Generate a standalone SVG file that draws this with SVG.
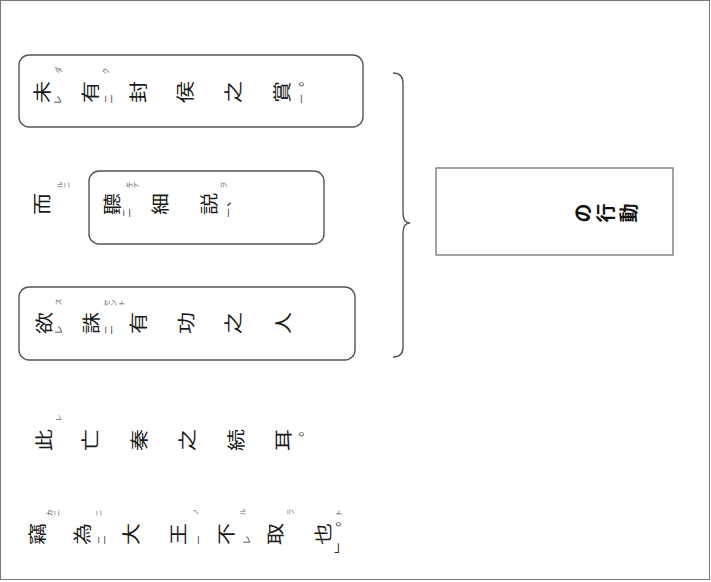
<svg xmlns="http://www.w3.org/2000/svg" width="711" height="582" viewBox="0 0 711 582">
<style>
.c{font-family:"Noto Sans CJK JP","Noto Sans CJK SC",sans-serif;font-size:22px;text-anchor:middle;dominant-baseline:central;fill:#1a1a1a}
.o{font-family:"Noto Sans CJK JP","Noto Sans CJK SC",sans-serif;font-size:7px;text-anchor:middle;dominant-baseline:central;fill:#666}
.k{font-family:"Noto Sans CJK JP","Noto Sans CJK SC",sans-serif;font-size:9px;text-anchor:middle;dominant-baseline:central;fill:#333}
.p{font-family:"Noto Sans CJK JP","Noto Sans CJK SC",sans-serif;font-size:14px;text-anchor:middle;dominant-baseline:central;fill:#333}
.t{font-family:"Noto Sans CJK JP","Noto Sans CJK SC",sans-serif;font-size:19px;font-weight:bold;text-anchor:middle;dominant-baseline:central;fill:#111}
.box{fill:none;stroke:#555;stroke-width:1.4}
.brace{fill:none;stroke:#555;stroke-width:1.4}
</style>
<rect x="0.5" y="0.5" width="709" height="579" fill="#fff" stroke="#777" stroke-width="1"/>

<g id="row1">
<rect class="box" x="19" y="55" width="344" height="72" rx="10"/>
<text class="c" transform="translate(41,92) scale(0.82,1) rotate(-90)">未</text>
<text class="c" transform="translate(89,92) scale(0.82,1) rotate(-90)">有</text>
<text class="c" transform="translate(137,92) scale(0.82,1) rotate(-90)">封</text>
<text class="c" transform="translate(184,92) scale(0.82,1) rotate(-90)">侯</text>
<text class="c" transform="translate(232,92) scale(0.82,1) rotate(-90)">之</text>
<text class="c" transform="translate(281,92) scale(0.82,1) rotate(-90)">賞</text>
<text class="o" transform="translate(58,70) rotate(-90)">ダ</text>
<text class="k" transform="translate(57,100) rotate(-90)">レ</text>
<text class="o" transform="translate(105,71) rotate(-90)">ク</text>
<text class="k" transform="translate(108,99) rotate(-90)">二</text>
<text class="p" transform="translate(296,80) rotate(-90)">。</text>
<text class="k" transform="translate(301,99) rotate(-90)">一</text>
</g>

<g id="row2">
<text class="c" transform="translate(41,204) scale(0.82,1) rotate(-90)">而</text>
<text class="o" transform="translate(59,185) rotate(-90)">ル</text>
<text class="o" transform="translate(66,185) rotate(-90)">ニ</text>
</g>

<g id="box2">
<rect class="box" x="89" y="171" width="235" height="73" rx="10"/>
<text class="c" transform="translate(111,204) scale(0.82,1) rotate(-90)">聽</text>
<text class="c" transform="translate(159,204) scale(0.82,1) rotate(-90)">細</text>
<text class="c" transform="translate(208,204) scale(0.82,1) rotate(-90)">説</text>
<text class="o" transform="translate(128,185) rotate(-90)">キ</text>
<text class="o" transform="translate(135,185) rotate(-90)">テ</text>
<text class="k" transform="translate(126,213) rotate(-90)">二</text>
<text class="o" transform="translate(223,185) rotate(-90)">ヲ</text>
<text class="p" transform="translate(224,200) rotate(-90)">、</text>
<text class="k" transform="translate(228,213) rotate(-90)">一</text>
</g>

<g id="row3">
<rect class="box" x="19" y="287" width="336" height="73" rx="10"/>
<text class="c" transform="translate(43,323) scale(0.82,1) rotate(-90)">欲</text>
<text class="c" transform="translate(90,323) scale(0.82,1) rotate(-90)">誅</text>
<text class="c" transform="translate(137,323) scale(0.82,1) rotate(-90)">有</text>
<text class="c" transform="translate(185,323) scale(0.82,1) rotate(-90)">功</text>
<text class="c" transform="translate(232,323) scale(0.82,1) rotate(-90)">之</text>
<text class="c" transform="translate(282,323) scale(0.82,1) rotate(-90)">人</text>
<text class="o" transform="translate(58,302) rotate(-90)">ス</text>
<text class="k" transform="translate(58,330) rotate(-90)">レ</text>
<text class="o" transform="translate(106,303) rotate(-90)">セ</text>
<text class="o" transform="translate(113,303) rotate(-90)">ン</text>
<text class="o" transform="translate(121,303) rotate(-90)">ト</text>
<text class="k" transform="translate(108,330) rotate(-90)">二</text>
</g>

<g id="row4">
<text class="c" transform="translate(43,440) scale(0.82,1) rotate(-90)">此</text>
<text class="c" transform="translate(89,440) scale(0.82,1) rotate(-90)">亡</text>
<text class="c" transform="translate(138,440) scale(0.82,1) rotate(-90)">秦</text>
<text class="c" transform="translate(186,440) scale(0.82,1) rotate(-90)">之</text>
<text class="c" transform="translate(235,440) scale(0.82,1) rotate(-90)">続</text>
<text class="c" transform="translate(282,440) scale(0.82,1) rotate(-90)">耳</text>
<text class="o" transform="translate(58,418) rotate(-90)">レ</text>
<text class="p" transform="translate(296,430) rotate(-90)">。</text>
</g>

<g id="row5">
<text class="c" transform="translate(36,534) scale(0.82,1) rotate(-90)">竊</text>
<text class="c" transform="translate(81,534) scale(0.82,1) rotate(-90)">為</text>
<text class="c" transform="translate(130,534) scale(0.82,1) rotate(-90)">大</text>
<text class="c" transform="translate(177,534) scale(0.82,1) rotate(-90)">王</text>
<text class="c" transform="translate(225,534) scale(0.82,1) rotate(-90)">不</text>
<text class="c" transform="translate(274,534) scale(0.82,1) rotate(-90)">取</text>
<text class="c" transform="translate(322,534) scale(0.82,1) rotate(-90)">也</text>
<text class="o" transform="translate(49,513) rotate(-90)">カ</text>
<text class="o" transform="translate(56,513) rotate(-90)">ニ</text>
<text class="o" transform="translate(98,513) rotate(-90)">ニ</text>
<text class="k" transform="translate(101,540) rotate(-90)">二</text>
<text class="o" transform="translate(195,512) rotate(-90)">ノ</text>
<text class="k" transform="translate(198,540) rotate(-90)">一</text>
<text class="o" transform="translate(242,512) rotate(-90)">ル</text>
<text class="k" transform="translate(246,540) rotate(-90)">レ</text>
<text class="o" transform="translate(290,512) rotate(-90)">ラ</text>
<text class="o" transform="translate(338,513) rotate(-90)">ト</text>
<text class="p" transform="translate(333,520) rotate(-90)">。</text>
<text class="p" transform="translate(341,545)">」</text>
</g>

<g id="result">
<rect x="436" y="168" width="237" height="87" fill="none" stroke="#666" stroke-width="1.2"/>
<text class="t" transform="translate(581,213) rotate(-90)">の</text>
<text class="t" transform="translate(604,213) rotate(-90)">行</text>
<text class="t" transform="translate(627,213) rotate(-90)">動</text>
</g>

<g id="connectors">
<path class="brace" d="M393,73 Q403,73 403,83 L403,213 Q403,223 410,223 Q403,223 403,233 L403,347 Q403,357 393,357"/>
</g>
</svg>
